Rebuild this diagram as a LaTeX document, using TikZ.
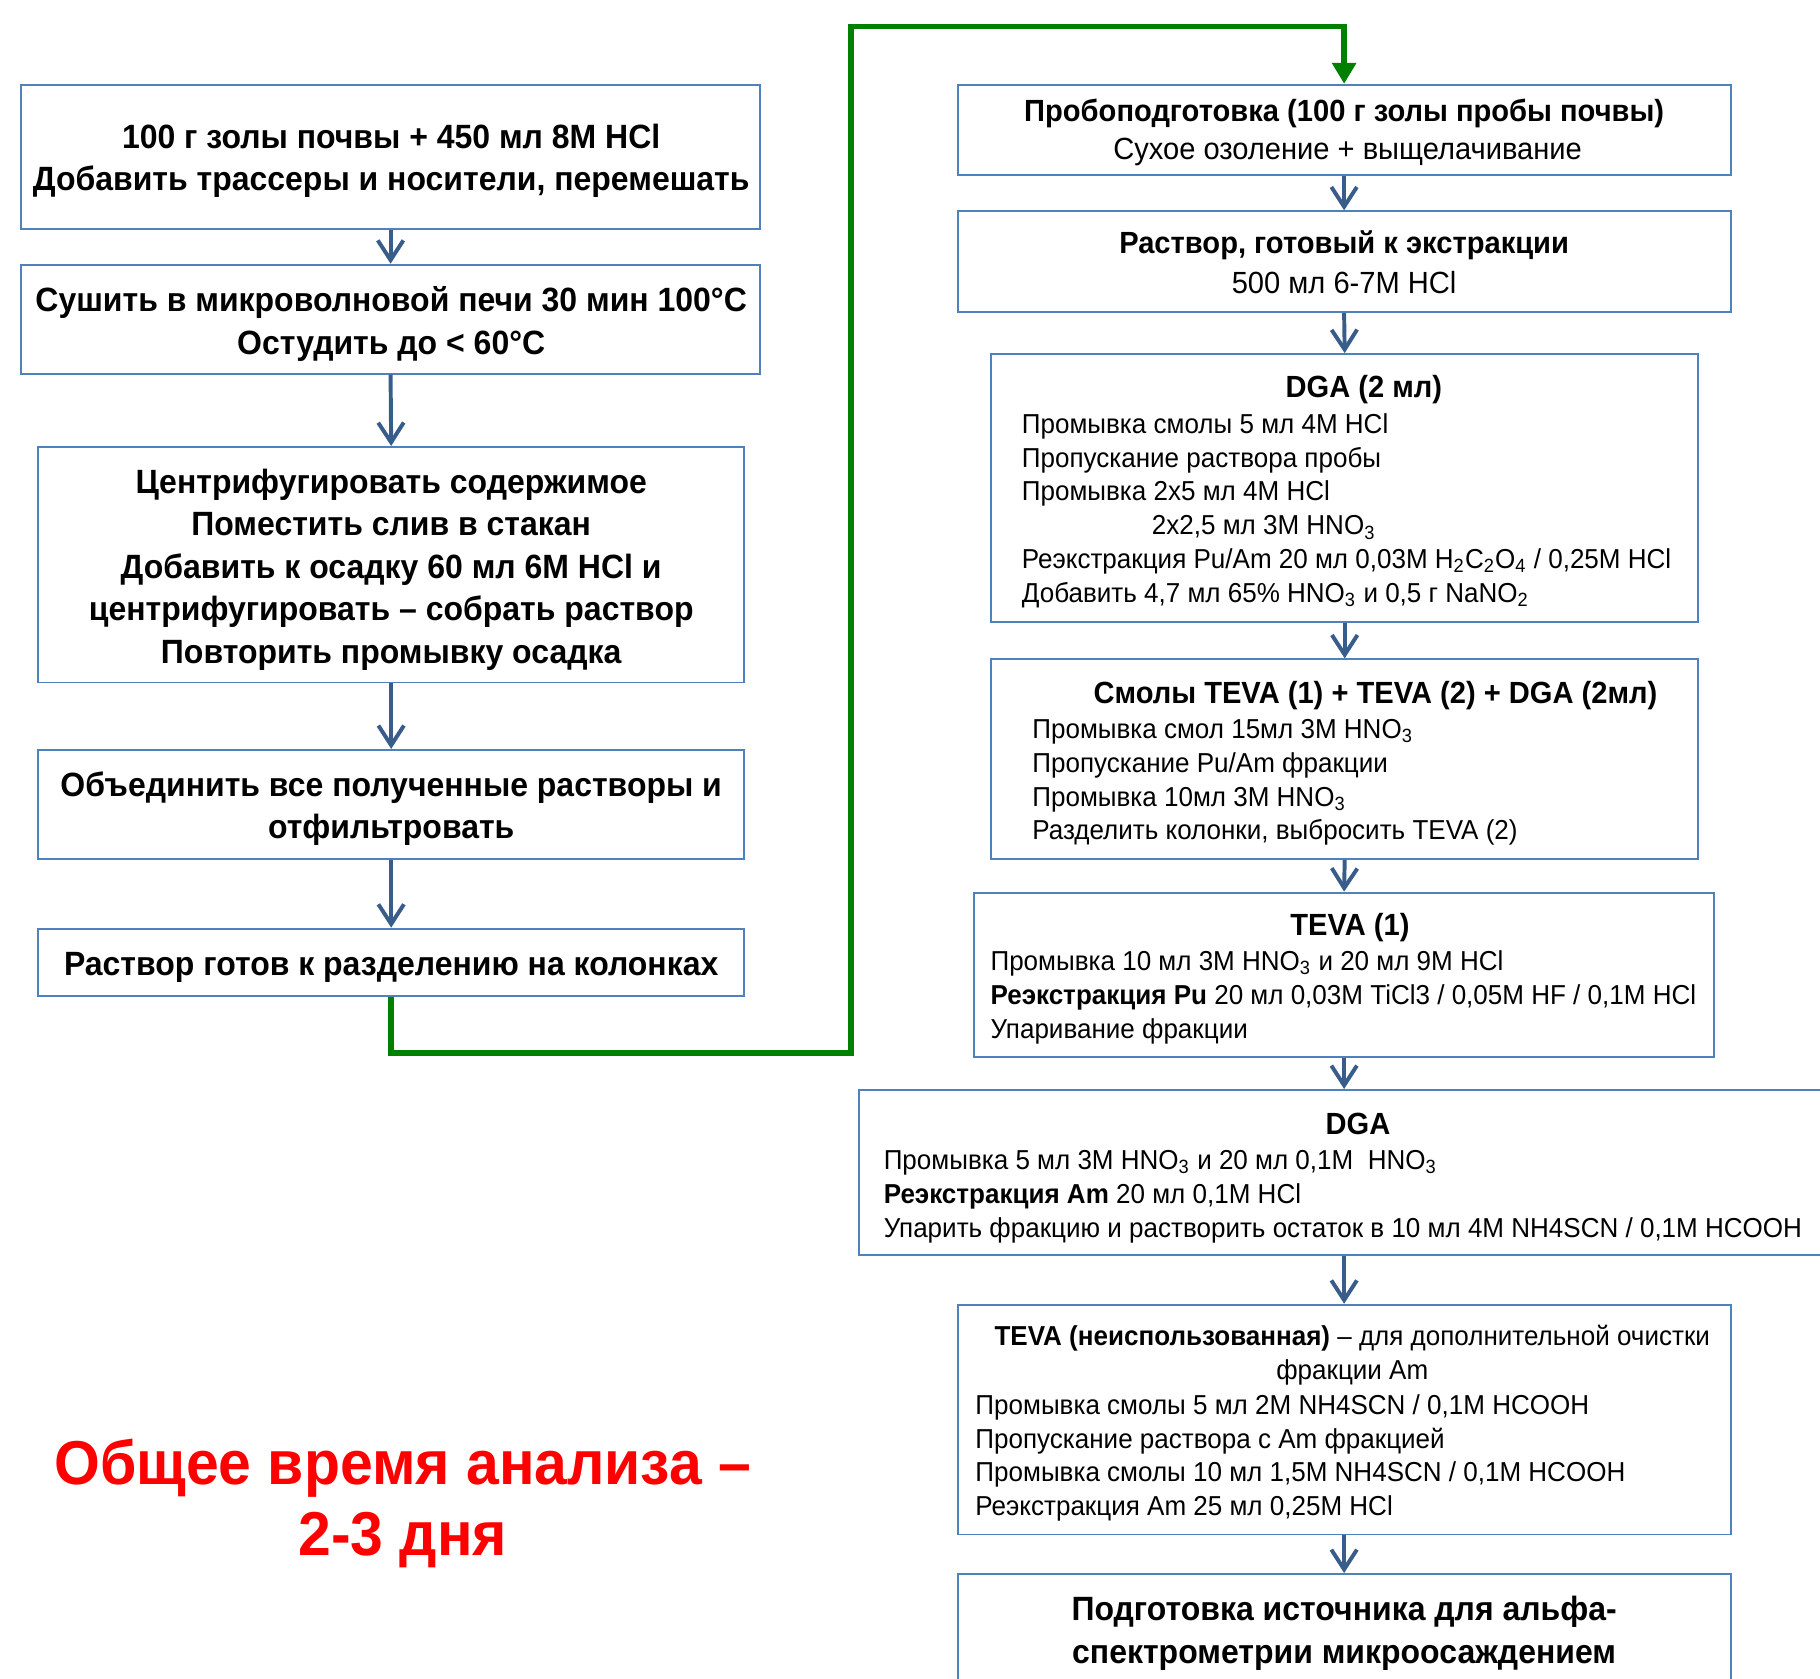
\documentclass[tikz,border=0pt]{standalone}
\usepackage{fontspec}
\setmainfont{Liberation Sans}[FakeStretch=0.95]
\usetikzlibrary{arrows.meta, fit}

\definecolor{boxblue}{RGB}{79,129,189}
\definecolor{arrblue}{RGB}{56,93,138}
\definecolor{linkgreen}{RGB}{0,128,0}
\definecolor{timered}{RGB}{255,0,0}

\tikzset{
  box/.style={draw=boxblue, line width=0.8pt, inner sep=0pt},
  flow/.style={draw=arrblue, line width=1.7pt, -{Straight Barb[length=8.5pt,width=11pt]}},
  link/.style={draw=linkgreen, line width=2.4pt, -{Triangle[length=9pt,width=10pt]}},
  big/.style={inner sep=0pt, align=center, font=\bfseries\fontsize{14.5}{18.3}\selectfont},
  title/.style={inner sep=0pt, font=\bfseries\fontsize{13.2}{15}\selectfont},
  sub/.style={inner sep=0pt, font=\fontsize{13.2}{15}\selectfont},
  plain/.style={inner sep=0pt, align=left, font=\fontsize{11.8}{14.6}\selectfont},
}

\begin{document}
\begin{tikzpicture}[x=0.5pt, y=-0.5pt]
\useasboundingbox (0,0) rectangle (1568,1446);
\clip (0,0) rectangle (1568,1446);

% Left column
\node[box, fit={(18,73) (655,197)}] (l1) {};
\node[big] (l1t) at (337,138.5) {100 г золы почвы + 450 мл 8M HCl\\Добавить трассеры и носители, перемешать};
\node[box, fit={(18,228) (655,322)}] (l2) {};
\node[big] (l2t) at (337,279) {Сушить в микроволновой печи 30 мин 100°C\\Остудить до < 60°C};
\node[box, fit={(33,385) (641,588)}] (l3) {};
\node[big] (l3t) at (337,490.5) {Центрифугировать содержимое\\Поместить слив в стакан\\Добавить к осадку 60 мл 6M HCl и\\центрифугировать – собрать раствор\\Повторить промывку осадка};
\node[box, fit={(33,646) (641,740)}] (l4) {};
\node[big] (l4t) at (337,696.5) {Объединить все полученные растворы и\\отфильтровать};
\node[box, fit={(33,800) (641,858)}] (l5) {};
\node[big] (l5t) at (337,833.5) {Раствор готов к разделению на колонках};

% Right column
\node[box, fit={(825,73) (1491,151)}] (r1) {};
\node[title] (r1h) at (1158,98) {Пробоподготовка (100 г золы пробы почвы)};
\node[sub] (r1t) at (1161,131) {Сухое озоление + выщелачивание};
\node[box, fit={(825,182) (1491,269)}] (r2) {};
\node[title] (r2h) at (1158,211.5) {Раствор, готовый к экстракции};
\node[sub] (r2t) at (1158,243) {500 мл 6-7M HCl};
\node[box, fit={(854,305) (1463,536)}] (r3) {};
\node[title] (r3h) at (1175,336) {DGA (2 мл)};
\node[plain, anchor=west] (r3t) at (880,440) {Промывка смолы 5 мл 4M HCl\\Пропускание раствора пробы\\Промывка 2x5 мл 4M HCl\\\hspace*{56pt}2x2,5 мл 3M HNO\textsubscript{3}\\Реэкстракция Pu/Am 20 мл 0,03M H\textsubscript{2}C\textsubscript{2}O\textsubscript{4} / 0,25M HCl\\Добавить 4,7 мл 65\% HNO\textsubscript{3} и 0,5 г NaNO\textsubscript{2}};
\node[box, fit={(854,568) (1463,740)}] (r4) {};
\node[title] (r4h) at (1185,599) {Смолы TEVA (1) + TEVA (2) + DGA (2мл)};
\node[plain, anchor=west] (r4t) at (889,674) {Промывка смол 15мл 3M HNO\textsubscript{3}\\Пропускание Pu/Am фракции\\Промывка 10мл 3M HNO\textsubscript{3}\\Разделить колонки, выбросить TEVA (2)};
\node[box, fit={(839,769) (1477,911)}] (r5) {};
\node[title] (r5h) at (1163,799) {TEVA (1)};
\node[plain, anchor=west] (r5t) at (853,859) {Промывка 10 мл 3M HNO\textsubscript{3} и 20 мл 9M HCl\\\textbf{Реэкстракция Pu} 20 мл 0,03M TiCl3 / 0,05M HF / 0,1M HCl\\Упаривание фракции};
\node[box, fit={(740,939) (1576,1081)}] (r6) {};
\node[title] (r6h) at (1170,968.5) {DGA};
\node[plain, anchor=west] (r6t) at (761,1031) {Промывка 5 мл 3M HNO\textsubscript{3} и 20 мл 0,1M\ \ HNO\textsubscript{3}\\\textbf{Реэкстракция Am} 20 мл 0,1M HCl\\Упарить фракцию и растворить остаток в 10 мл 4M NH4SCN / 0,1M HCOOH};
\node[box, fit={(825,1124) (1491,1322)}] (r7) {};
\node[plain, align=center] (r7h) at (1165,1167.5) {\textbf{TEVA (неиспользованная)} – для дополнительной очистки\\фракции Am};
\node[plain, anchor=west] (r7t) at (840,1256) {Промывка смолы 5 мл 2M NH4SCN / 0,1M HCOOH\\Пропускание раствора с Am фракцией\\Промывка смолы 10 мл 1,5M NH4SCN / 0,1M HCOOH\\Реэкстракция Am 25 мл 0,25M HCl};
\node[box, fit={(825,1356) (1491,1470)}] (r8) {};
\node[big] (r8t) at (1158,1407) {Подготовка источника для альфа-\\спектрометрии микроосаждением};

% Total time
\node[inner sep=0pt, align=center, text=timered, font=\bfseries\fontsize{26.7}{30.5}\selectfont] (time) at (347,1295) {Общее время анализа –\\2-3 дня};

% Arrows
\foreach \a/\b in {l1/l2, l2/l3, l3/l4, l4/l5, r1/r2, r2/r3, r3/r4, r4/r5, r5/r6, r6/r7, r7/r8}
  \draw[flow] (\a.south) -- (\b.north);

% Link to the right column
\coordinate (g1) at (733,907);
\coordinate (g2) at (1158,23);
\draw[link] (l5.south) |- (g1) |- (g2) -- (r1.north);
\end{tikzpicture}
\end{document}
